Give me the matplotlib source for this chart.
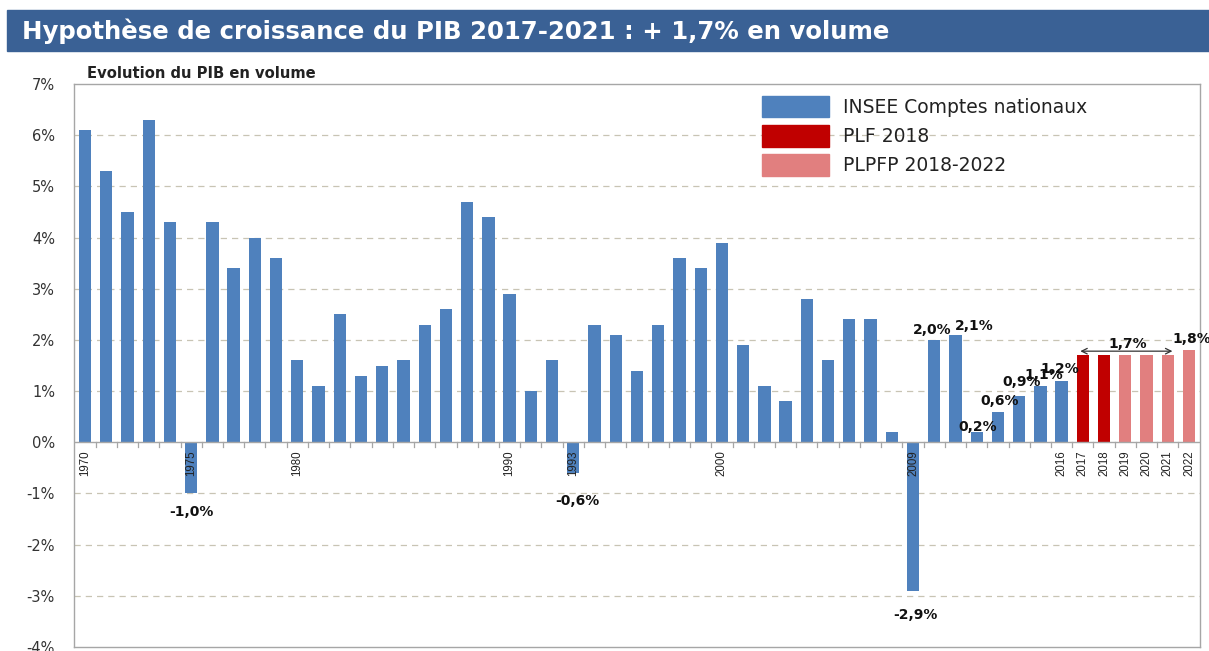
import numpy as np
import matplotlib.pyplot as plt
from matplotlib.patches import Rectangle, Patch

# croissance du PIB en volume (%), 1970-2016 INSEE puis prévisions
years = list(range(1970, 2023))
insee = [6.1, 5.3, 4.5, 6.3, 4.3, -1.0, 4.3, 3.4, 4.0, 3.6,
         1.6, 1.1, 2.5, 1.3, 1.5, 1.6, 2.3, 2.6, 4.7, 4.4,
         2.9, 1.0, 1.6, -0.6, 2.3, 2.1, 1.4, 2.3, 3.6, 3.4,
         3.9, 1.9, 1.1, 0.8, 2.8, 1.6, 2.4, 2.4, 0.2, -2.9,
         2.0, 2.1, 0.2, 0.6, 0.9, 1.1, 1.2]
plf = [1.7, 1.7]            # 2017-2018
plpfp = [1.7, 1.7, 1.7, 1.8]  # 2019-2022
shown_years = [1970, 1975, 1980, 1990, 1993, 2000, 2009,
               2016, 2017, 2018, 2019, 2020, 2021, 2022]
labelled = {1975: -1.0, 1993: -0.6, 2009: -2.9, 2010: 2.0, 2011: 2.1,
            2012: 0.2, 2013: 0.6, 2014: 0.9, 2015: 1.1, 2016: 1.2, 2022: 1.8}

# décalages manuels des étiquettes (catégories, points de %)
offsets = {1975: (0.0, -0.23), 1993: (0.2, -0.41), 2009: (0.1, -0.33),
           2010: (-0.1, 0.11), 2011: (0.9, 0.1), 2012: (0.05, 0.03),
           2013: (0.1, 0.12), 2014: (0.1, 0.19), 2015: (0.15, 0.13),
           2016: (-0.1, 0.15), 2022: (0.15, 0.14)}

blue = '#4F81BD'
dark_red = '#C00000'
pink = '#E17F7F'
grid_col = '#C8C4B4'
spine_col = '#A6A6A6'

plt.rcParams['font.family'] = 'DejaVu Sans'

fig = plt.figure(figsize=(12.09, 6.51), dpi=100)

# bandeau de titre
fig.patches.append(Rectangle((7 / 1209, 1 - 51 / 651), 1, 41 / 651,
                             transform=fig.transFigure, color='#3A6195', zorder=0))
fig.text(22 / 1209, 1 - 31 / 651, 'Hypothèse de croissance du PIB 2017-2021 : + 1,7% en volume',
         color='white', fontsize=17.6, fontweight='bold', va='center', ha='left')
fig.text(87 / 1209, 1 - 74 / 651, 'Evolution du PIB en volume',
         fontsize=10.6, fontweight='bold', va='center', ha='left', color='#222222')

ax = fig.add_axes([74.4 / 1209, 1 - 647 / 651, 1125.2 / 1209, 563 / 651])

values = insee + plf + plpfp
colors = [blue] * len(insee) + [dark_red] * len(plf) + [pink] * len(plpfp)
x = np.arange(len(years))
ax.bar(x, values, width=0.58, color=colors, zorder=3)

ax.set_xlim(-0.5, len(years) - 0.5)
ax.set_ylim(-4, 7)
ax.set_yticks(range(-4, 8))
ax.set_yticklabels([f'{v}%' for v in range(-4, 8)], fontsize=10.5, color='#333333')
ax.tick_params(axis='y', length=0, pad=14)
ax.set_xticks([])

for v in range(-3, 7):
    if v != 0:
        ax.axhline(v, color=grid_col, lw=0.9, ls=(0, (5, 4)), zorder=1)
ax.axhline(0, color=spine_col, lw=1.0, zorder=4)

# petites graduations entre catégories sous l'axe
for b in np.arange(0.5, len(years) - 1, 1.0):
    ax.plot([b, b], [0, -0.1], color=spine_col, lw=0.9, zorder=4)

for s in ax.spines.values():
    s.set_color(spine_col)
    s.set_linewidth(1.0)

# années affichées
for yr in shown_years:
    ax.text(years.index(yr), -0.16, str(yr), rotation=90, ha='center', va='top',
            fontsize=8.3, family='Liberation Sans', color='#222222', zorder=5)

# étiquettes de valeurs
for yr, val in labelled.items():
    dx, dy = offsets[yr]
    va = 'top' if val < 0 else 'baseline'
    ax.text(years.index(yr) + dx, val + dy, f'{val:.1f}%'.replace('.', ','),
            ha='center', va=va, fontsize=10, fontweight='bold', color='#111111', zorder=6)

# flèche 2017-2021 à 1,7 %
ax.annotate('', xy=(51.35, 1.78), xytext=(46.75, 1.78),
            arrowprops=dict(arrowstyle='<->', color='#333333', lw=0.9), zorder=6)
ax.text(49.1, plf[0] + 0.14, f'{plf[0]:.1f}%'.replace('.', ','), ha='center', va='baseline',
        fontsize=10, fontweight='bold', color='#111111', zorder=6)

handles = [Patch(color=blue), Patch(color=dark_red), Patch(color=pink)]
leg = ax.legend(handles, ['INSEE Comptes nationaux', 'PLF 2018', 'PLPFP 2018-2022'],
                loc='upper left', bbox_to_anchor=(0.611, 0.979), frameon=False,
                borderaxespad=0, borderpad=0,
                fontsize=13.5, handlelength=3.6, handleheight=1.38, handletextpad=0.7,
                labelspacing=0.42)
for t in leg.get_texts():
    t.set_color('#222222')

fig.savefig('out.png', dpi=100)
